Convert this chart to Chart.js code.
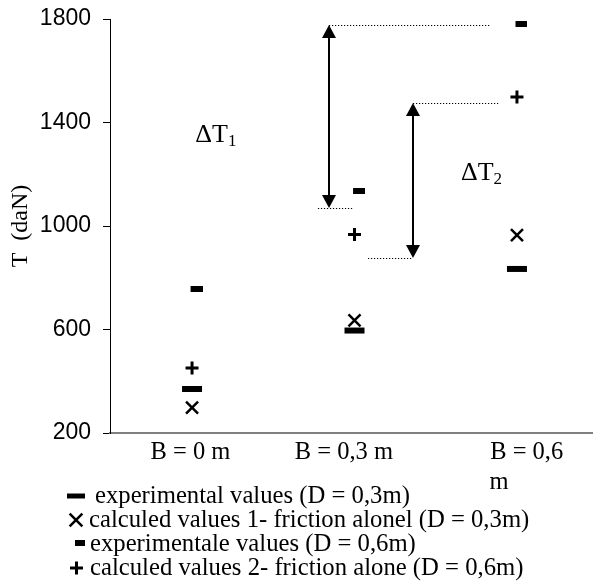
<!DOCTYPE html>
<html>
<head>
<meta charset="utf-8">
<script src="https://cdn.jsdelivr.net/npm/chart.js@4.4.1/dist/chart.umd.min.js"></script>
<style>
  html, body { margin: 0; padding: 0; background: #fff; }
  #wrap { width: 593px; height: 583px; }
</style>
</head>
<body>
<div id="wrap"><canvas id="chart" width="593" height="583"></canvas></div>
<script>
const SERIF = "'Liberation Serif', 'Times New Roman', serif";
const SANS = "'Liberation Sans', Arial, sans-serif";

// categories (the last one wraps in the original, second line left aligned)
const categories = [['B = 0 m'], ['B = 0,3 m'], ['B = 0,6', 'm\u00a0\u00a0\u00a0\u00a0\u00a0\u00a0\u00a0\u00a0\u00a0']];
// where each category label is centred, in category units (Excel shifted them a little)
const labelAt = [-0.01, 0.935, 2.06];
const yTicks = [200, 600, 1000, 1400, 1800];

// T (daN)
const expD03 = [370, 596, 834];      // experimental values (D = 0,3m)
const calc1D03 = [298, 635, 965];    // calculed values 1- friction alone (D = 0,3m)
const expD06 = [756, 1135, 1779];    // experimentale values (D = 0,6m)
const calc2D06 = [451, 967, 1499];   // calculed values 2- friction alone (D = 0,6m)

const legendLabels = [
  'experimental values (D = 0,3m)',
  'calculed values 1- friction alonel (D = 0,3m)',
  'experimentale values (D = 0,6m)',
  'calculed values 2- friction alone (D = 0,6m)'
];

// delta T arrows, x in category units, ends in daN
const arrowX = [0.843, 1.36];
const arrowLow = [1070, 876];
const arrowHigh = [1777, 1475];
// dotted guides: from x, to x, level
const guideFrom = [0.843, 0.775, 1.36, 1.083];
const guideTo = [1.834, 0.99, 1.895, 1.36];
const guideLevel = [1777, 1070, 1475, 876];
// delta labels
const deltaSub = ['1', '2'];
const deltaX = [0.02, 1.655];
const deltaY = [1325, 1178];

function toPoints(values) {
  return values.map((v, i) => ({ x: i, y: v }));
}

// small dash marker sits a bit right of the category in the original
function makeDash() {
  const c = document.createElement('canvas');
  c.width = 21;
  c.height = 6;
  const g = c.getContext('2d');
  g.fillStyle = '#000';
  g.fillRect(9, 0, 12, 6);
  return c;
}
const dashImg = makeDash();

const markerStyles = [
  { pointStyle: 'line', radius: 10, borderWidth: 6 },
  { pointStyle: 'crossRot', radius: 8.5, borderWidth: 2.5 },
  { pointStyle: dashImg, radius: 6, borderWidth: 0 },
  { pointStyle: 'cross', radius: 6.5, borderWidth: 3 }
];

const seriesValues = [expD03, calc1D03, expD06, calc2D06];

const datasets = seriesValues.map((vals, i) => ({
  label: legendLabels[i],
  data: toPoints(vals),
  showLine: false,
  pointStyle: markerStyles[i].pointStyle,
  pointRadius: markerStyles[i].radius,
  pointHoverRadius: markerStyles[i].radius,
  pointBorderWidth: markerStyles[i].borderWidth,
  pointBorderColor: '#000',
  pointBackgroundColor: '#000'
}));

const annotations = {
  id: 'deltaArrows',
  afterDatasetsDraw(chart) {
    const { ctx, scales: { x, y } } = chart;
    ctx.save();
    ctx.strokeStyle = '#000';
    ctx.fillStyle = '#000';

    // dotted guides
    ctx.lineWidth = 1.2;
    ctx.setLineDash([1.2, 1.8]);
    guideLevel.forEach((lvl, i) => {
      const py = Math.round(y.getPixelForValue(lvl)) + 0.5;
      ctx.beginPath();
      ctx.moveTo(x.getPixelForValue(guideFrom[i]), py);
      ctx.lineTo(x.getPixelForValue(guideTo[i]), py);
      ctx.stroke();
    });
    ctx.setLineDash([]);

    // double arrows
    arrowX.forEach((ax, i) => {
      const px = x.getPixelForValue(ax);
      const top = y.getPixelForValue(arrowHigh[i]);
      const bot = y.getPixelForValue(arrowLow[i]);
      const hh = 13, hw = 7;
      ctx.lineWidth = 2;
      ctx.beginPath();
      ctx.moveTo(px, top + hh - 1);
      ctx.lineTo(px, bot - hh + 1);
      ctx.stroke();
      ctx.beginPath();
      ctx.moveTo(px, top);
      ctx.lineTo(px - hw, top + hh);
      ctx.lineTo(px + hw, top + hh);
      ctx.closePath();
      ctx.fill();
      ctx.beginPath();
      ctx.moveTo(px, bot);
      ctx.lineTo(px - hw, bot - hh);
      ctx.lineTo(px + hw, bot - hh);
      ctx.closePath();
      ctx.fill();
    });

    // ΔT labels
    ctx.textBaseline = 'alphabetic';
    ctx.textAlign = 'left';
    deltaSub.forEach((s, i) => {
      const px = x.getPixelForValue(deltaX[i]);
      const py = y.getPixelForValue(deltaY[i]);
      ctx.font = '26px ' + SERIF;
      ctx.fillText('ΔT', px, py);
      const w = ctx.measureText('ΔT').width;
      ctx.font = '17px ' + SERIF;
      ctx.fillText(s, px + w, py + 4);
    });
    ctx.restore();
  }
};

const bottomLegend = {
  id: 'bottomLegend',
  afterDraw(chart) {
    const { ctx } = chart;
    const rows = [
      { mx: 76, my: 496, tx: 95, ty: 503 },
      { mx: 76, my: 520, tx: 89, ty: 527 },
      { mx: 76, my: 543, tx: 90, ty: 551 },
      { mx: 76.5, my: 568, tx: 90, ty: 575 }
    ];
    const legendMarkers = [
      { pointStyle: 'line', radius: 9, borderWidth: 5 },
      { pointStyle: 'crossRot', radius: 9, borderWidth: 2.5 },
      { pointStyle: 'rect', radius: 0 },
      { pointStyle: 'cross', radius: 6.5, borderWidth: 3 }
    ];
    ctx.save();
    ctx.strokeStyle = '#000';
    ctx.fillStyle = '#000';
    rows.forEach((r, i) => {
      const m = legendMarkers[i];
      if (m.radius > 0) {
        ctx.lineWidth = m.borderWidth;
        Chart.helpers.drawPoint(ctx, { pointStyle: m.pointStyle, radius: m.radius, borderWidth: m.borderWidth, rotation: 0 }, r.mx, r.my);
      } else {
        ctx.fillRect(r.mx - 1, r.my - 3, 10, 6);
      }
      ctx.font = '24.7px ' + SERIF;
      ctx.textBaseline = 'alphabetic';
      ctx.textAlign = 'left';
      ctx.fillText(legendLabels[i], r.tx, r.ty);
    });
    ctx.restore();
  }
};

new Chart(document.getElementById('chart'), {
  type: 'scatter',
  data: { datasets },
  plugins: [annotations, bottomLegend],
  options: {
    responsive: false,
    animation: false,
    events: [],
    layout: { autoPadding: false, padding: { top: 19, right: 0, left: 0, bottom: 0 } },
    plugins: {
      legend: { display: false },
      tooltip: { enabled: false }
    },
    scales: {
      x: {
        type: 'linear',
        min: -0.505,
        max: 2.468,
        afterBuildTicks: (s) => { s.ticks = labelAt.map(v => ({ value: v })); },
        afterFit: (s) => {
          s.height = 150;
          s.paddingLeft = 0;
          s.paddingRight = 0;
        },
        grid: { display: true, drawOnChartArea: false, drawTicks: false },
        border: { display: true, color: '#808080', width: 2 },
        ticks: {
          color: '#000',
          padding: 4,
          autoSkip: false,
          maxRotation: 0,
          font: { family: SERIF, size: 24.5, lineHeight: 1.25 },
          callback: (v, i) => categories[i]
        }
      },
      y: {
        min: 200,
        max: 1800,
        afterBuildTicks: (s) => { s.ticks = yTicks.map(v => ({ value: v })); },
        afterFit: (s) => {
          s.width = 110;
          s.paddingTop = 0;
          s.paddingBottom = 0;
        },
        grid: { display: true, drawOnChartArea: false, drawTicks: true, tickLength: 7, color: '#000' },
        border: { display: true, color: '#000', width: 1 },
        ticks: {
          color: '#000',
          padding: 12,
          font: { family: SANS, size: 23 },
          callback: (v) => String(v)
        },
        title: {
          display: true,
          text: 'T  (daN)',
          color: '#000',
          padding: { top: 6, bottom: 0 },
          font: { family: SERIF, size: 24 }
        }
      }
    }
  }
});
</script>
</body>
</html>
